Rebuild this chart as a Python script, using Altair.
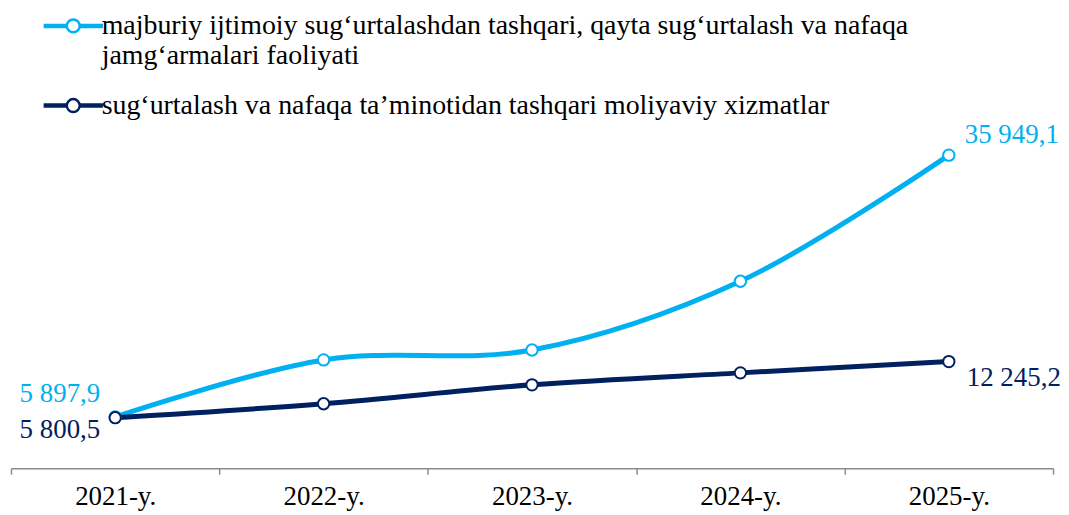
import altair as alt
import pandas as pd

years = ["2021-y.", "2022-y.", "2023-y.", "2024-y.", "2025-y."]
series_a = "majburiy ijtimoiy sug‘urtalashdan tashqari, qayta sug‘urtalash va nafaqa jamg‘armalari faoliyati"
series_b = "sug‘urtalash va nafaqa ta’minotidan tashqari moliyaviy xizmatlar"
series_a_lines = ["majburiy ijtimoiy sug‘urtalashdan tashqari, qayta sug‘urtalash va nafaqa",
                  "jamg‘armalari faoliyati"]
values_a = [5897.9, 12435, 13580, 21473, 35949.1]
values_b = [5800.5, 7402, 9575, 10948, 12245.2]
colors = ["#00B0F0", "#002060"]

def fmt(v):
    s = f"{v:,.1f}"
    return s.replace(",", " ").replace(".", ",")

rows = []
for y, v in zip(years, values_a):
    rows.append({"year": y, "value": v, "series": series_a, "label": fmt(v)})
for y, v in zip(years, values_b):
    rows.append({"year": y, "value": v, "series": series_b, "label": fmt(v)})
df = pd.DataFrame(rows)

FONT = "Liberation Serif"

legend_path = ("M-2.85,-0.1 H-0.72 V0.1 H-2.85 Z "
               "M0.72,-0.1 H2.85 V0.1 H0.72 Z "
               "M0.65,0 A0.65,0.65 0 1 1 -0.65,0 A0.65,0.65 0 1 1 0.65,0 Z")

label_expr = ("datum.label == '" + series_a + "' ? ['" + series_a_lines[0] + "', '"
              + series_a_lines[1] + "'] : datum.label")

x = alt.X("year:N", sort=years,
          scale=alt.Scale(type="band", paddingInner=0, paddingOuter=0),
          axis=alt.Axis(title=None, labelAngle=0, labelFont=FONT, labelFontSize=27,
                        labelColor="black", domainColor="#8c8c8c", domainWidth=1.5,
                        tickColor="#8c8c8c", tickWidth=1.5, tickSize=6, tickBand="extent",
                        labelPadding=9, grid=False))
y = alt.Y("value:Q", scale=alt.Scale(domain=[0, 52510], nice=False, zero=True), axis=None)
color = alt.Color("series:N",
                  scale=alt.Scale(domain=[series_a, series_b], range=colors),
                  legend=alt.Legend(title=None, orient="none", legendX=48.5, legendY=1,
                                    direction="vertical", symbolType=legend_path,
                                    symbolSize=400, symbolStrokeWidth=2.5,
                                    symbolFillColor="white", labelFont=FONT,
                                    labelFontSize=28, labelColor="black", labelLimit=2000,
                                    labelExpr=label_expr, labelOffset=14.5, rowPadding=22,
                                    labelBaseline="middle", padding=0))

base = alt.Chart(df)

lines = base.mark_line(interpolate="catmull-rom", strokeWidth=5).encode(
    x=x, y=y, color=color, detail="series:N")
points = base.mark_point(filled=False, fill="white", size=130, strokeWidth=2, opacity=1).encode(
    x=x, y=y, color=color)

def lab(series, year, align, dx, dy, col):
    return base.mark_text(font=FONT, fontSize=27, align=align, baseline="alphabetic",
                          dx=dx, dy=dy, color=col).encode(
        x=x, y=y, text="label:N").transform_filter(
        (alt.datum.series == series) & (alt.datum.year == year))

labels = [
    lab(series_a, years[0], "right", -15, -15, colors[0]),
    lab(series_b, years[0], "right", -15, 20, colors[1]),
    lab(series_a, years[-1], "left", 16, -12, colors[0]),
    lab(series_b, years[-1], "left", 18, 25, colors[1]),
]

chart = alt.layer(lines, points, *labels).properties(
    width=1046, height=459,
    padding={"left": 2, "top": 2, "right": 0, "bottom": 2},
).configure_view(stroke=None).configure_legend(
    labelFont=FONT, labelFontSize=28, labelColor="black", labelLimit=2000)

chart.save("out.html", embed_options={"renderer": "svg", "actions": False})
